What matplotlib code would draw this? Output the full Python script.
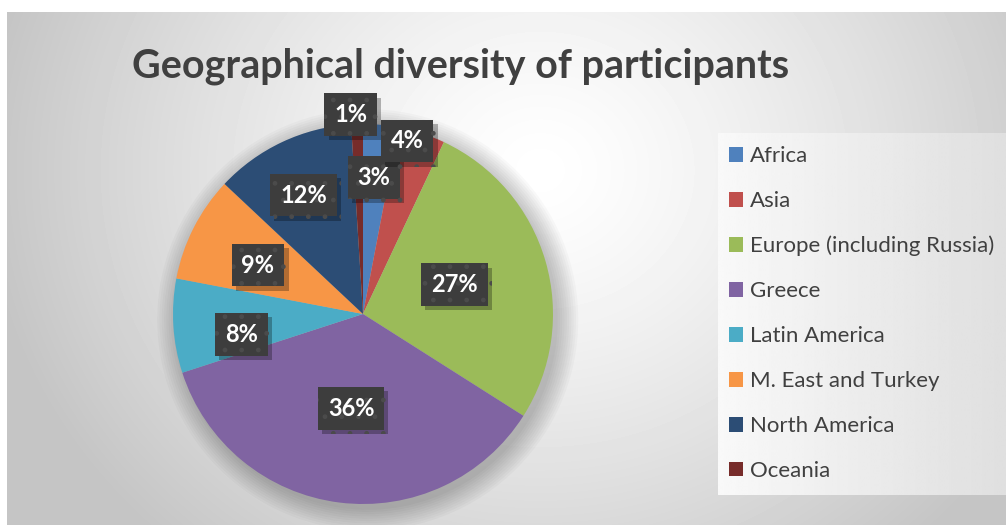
import matplotlib
matplotlib.use('Agg')
import matplotlib.pyplot as plt
import matplotlib.patheffects as pe
import numpy as np
from matplotlib.patches import Circle

# data
regions = ['Africa', 'Asia', 'Europe (including Russia)', 'Greece',
           'Latin America', 'M. East and Turkey', 'North America', 'Oceania']
shares = [3, 4, 27, 36, 8, 9, 12, 1]
colors = ['#4F81BD', '#C0504D', '#9BBB59', '#8064A2',
          '#4BACC6', '#F79646', '#2C4D75', '#772C2A']
title = 'Geographical diversity of participants'

# where the % boxes sit: fraction of radius and small angle tweak (deg)
label_dist = [0.72, 0.94, 0.505, 0.5, 0.65, 0.61, 0.70, 1.05]
label_turn = [0.8, 3.7, 1.5, 0, 5.8, 2, 1.4, 1.7]

W, H = 1006, 525
plt.rcParams['font.family'] = ['Lato', 'DejaVu Sans']
plt.rcParams['hatch.linewidth'] = 1.0

fig = plt.figure(figsize=(W / 100, H / 100), dpi=100)
fig.patch.set_facecolor('white')

# radial grey background of the chart area
bg = fig.add_axes([7 / W, 0, 1 - 7 / W, 1 - 12 / H])
yy, xx = np.mgrid[12:H, 7:W]
d = np.hypot(xx - 540, (yy - 170) / 0.9)
shade = 1 - 0.23 * np.clip(d / 560, 0, 1) ** 1.3
bg.imshow(shade, cmap='gray', vmin=0, vmax=1, aspect='auto', interpolation='bilinear')
bg.axis('off')

# legend panel, light horizontal gradient
lg = fig.add_axes([718 / W, (H - 495) / H, (W - 718) / W, (495 - 133) / H])
grad = np.linspace(0.975, 0.875, 200)[None, :]
lg.imshow(grad, cmap='gray', vmin=0, vmax=1, aspect='auto', interpolation='bilinear')
lg.axis('off')

# pie
R = 190
ax = fig.add_axes([(363 - R) / W, (H - 314 - R) / H, 2 * R / W, 2 * R / H])
for k in range(10):
    ax.add_patch(Circle((0.025, -0.03), 1.0 + k * 0.012, color='black',
                        alpha=0.025, lw=0, zorder=0, clip_on=False))
wedges, _ = ax.pie(shares, colors=colors, startangle=90, counterclock=False,
                   radius=1, wedgeprops=dict(linewidth=0))
for w in wedges:
    w.set_zorder(2)
ax.set_xlim(-1, 1)
ax.set_ylim(-1, 1)
ax.axis('off')

for w, pct, dist, turn in zip(wedges, shares, label_dist, label_turn):
    ang = np.deg2rad((w.theta1 + w.theta2) / 2 + turn)
    x, y = dist * np.cos(ang), dist * np.sin(ang)
    lab = ax.text(x, y, f'{pct}%', ha='center', va='center', fontsize=17,
                  fontweight='bold', color='white', zorder=4,
                  bbox=dict(boxstyle='square,pad=0.42', fc='#3d3d3d', ec='#4b4b4b',
                            lw=0, hatch='.'))
    lab.get_bbox_patch().set_path_effects(
        [pe.SimplePatchShadow(offset=(3, -3), shadow_rgbFace='black', alpha=0.28),
         pe.Normal()])

# title, fitted to the reference width
t = fig.text(461 / W, 1 - 66 / H, title, ha='center', va='center', fontsize=30,
             fontweight='bold', color='#404040')
fig.canvas.draw()
tw = t.get_window_extent().width
t.set_fontsize(30 * 657 / tw)

fig.legend(wedges, regions, loc='upper left', bbox_to_anchor=(729 / W, 1 - 146 / H),
           frameon=False, fontsize=16, labelcolor='#404040', handlelength=0.65,
           handleheight=0.65, handletextpad=0.3, labelspacing=1.12,
           borderpad=0, borderaxespad=0)

fig.savefig('out.png', dpi=100)
